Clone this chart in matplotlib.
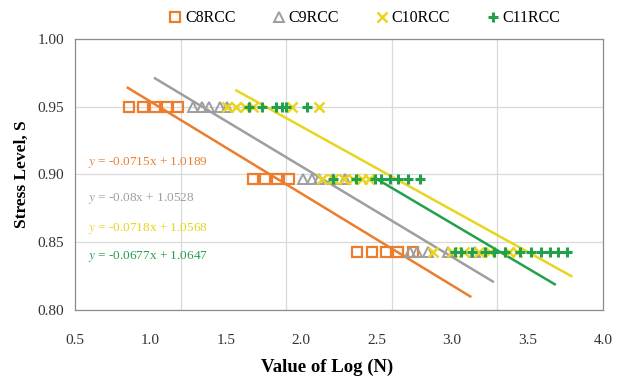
import numpy as np
import matplotlib
matplotlib.use('Agg')
import matplotlib.pyplot as plt
from matplotlib.ticker import FixedLocator

plt.rcParams['font.family'] = ['Liberation Serif', 'DejaVu Serif']
plt.rcParams['mathtext.fontset'] = 'stix'

# stress levels
levels = [0.95, 0.897, 0.843]

# value of log(N) for each specimen, one list per stress level
c8_logn = [[0.86, 0.95, 1.03, 1.11, 1.18],
           [1.68, 1.76, 1.84, 1.92],
           [2.37, 2.47, 2.56, 2.64, 2.74]]
c9_logn = [[1.28, 1.34, 1.39, 1.46, 1.51],
           [2.01, 2.07, 2.12, 2.21, 2.29],
           [2.72, 2.77, 2.84, 2.97, 3.15]]
c10_logn = [[1.51, 1.57, 1.63, 1.68, 1.94, 2.12],
            [2.14, 2.21, 2.28, 2.34, 2.40, 2.45],
            [2.87, 3.00, 3.08, 3.18, 3.25, 3.38, 3.43]]
c11_logn = [[1.65, 1.74, 1.83, 1.87, 1.90, 2.04],
            [2.21, 2.36, 2.49, 2.53, 2.59, 2.64, 2.71, 2.79],
            [3.02, 3.06, 3.13, 3.22, 3.28, 3.35, 3.45, 3.52, 3.59, 3.65, 3.70, 3.76]]

# trend lines as drawn (start / end in data units)
trend_x = [[0.85, 3.12], [1.03, 3.27], [1.57, 3.79], [2.48, 3.68]]
trend_y = [[0.964, 0.810], [0.971, 0.821], [0.962, 0.825], [0.898, 0.819]]

equations = ['-0.0715x + 1.0189', '-0.08x + 1.0528', '-0.0718x + 1.0568', '-0.0677x + 1.0647']
names = ['C8RCC', 'C9RCC', 'C10RCC', 'C11RCC']
colors = ['#EC7D2C', '#9E9E9E', '#E8D51C', '#22A04A']

fig = plt.figure(figsize=(6.17, 3.81), dpi=100)
ax = fig.add_axes([0.1216, 0.1864, 0.8557, 0.7112])

# trend lines
for i in range(4):
    ax.plot(trend_x[i], trend_y[i], color=colors[i], lw=1.8, zorder=2)

def flat(series):
    xs, ys = [], []
    for lv, vals in zip(levels, series):
        xs += vals
        ys += [lv] * len(vals)
    return xs, ys

x, y = flat(c8_logn)
h1, = ax.plot(x, y, 's', ms=7, mfc='none', mec=colors[0], mew=1.6, ls='none', zorder=3)
x, y = flat(c9_logn)
h2, = ax.plot(x, y, '^', ms=7.5, mfc='none', mec=colors[1], mew=1.4, ls='none', zorder=3)
x, y = flat(c10_logn)
h3, = ax.plot(x, y, 'x', ms=6.5, color=colors[2], mew=1.8, ls='none', zorder=3)
x, y = flat(c11_logn)
h4, = ax.plot(x, y, '+', ms=7, color=colors[3], mew=2.2, ls='none', zorder=4)

ax.set_xlim(0.5, 4.0)
ax.set_ylim(0.80, 1.00)
ax.set_xticks(np.arange(0.5, 4.01, 0.5))
ax.set_yticks([0.80, 0.85, 0.90, 0.95, 1.00])
ax.xaxis.set_minor_locator(FixedLocator([1.2, 1.9, 2.6, 3.3]))
ax.set_xticklabels(['%.1f' % v for v in np.arange(0.5, 4.01, 0.5)])
ax.set_yticklabels(['0.80', '0.85', '0.90', '0.95', '1.00'])
ax.tick_params(axis='both', which='both', length=0, labelsize=11, colors='#333333', pad=8)
ax.tick_params(axis='x', pad=17)
ax.grid(axis='y', which='major', color='#D9D9D9', lw=0.9)
ax.grid(axis='x', which='minor', color='#D9D9D9', lw=0.9)
ax.set_axisbelow(True)
for sp in ax.spines.values():
    sp.set_color('#8C8C8C')
    sp.set_linewidth(0.9)

ax.set_xlabel('Value of Log (N)', fontsize=13.5, fontweight='bold')
ax.xaxis.set_label_coords(0.477, -0.18)
ax.set_ylabel('Stress Level, S', fontsize=12.5, fontweight='bold', labelpad=5)

eq_y = [0.545, 0.41, 0.299, 0.199]
for i in range(4):
    ax.text(0.024, eq_y[i], r'$y$ = ' + equations[i], transform=ax.transAxes,
            color=colors[i], fontsize=9.5, va='center', ha='left')

fig.legend([h1, h2, h3, h4], names, loc='center', bbox_to_anchor=(0.59, 0.952),
           ncol=4, frameon=False, fontsize=11.5, handletextpad=0.1,
           columnspacing=2.2, handlelength=1.0)

fig.savefig('out.png', dpi=100)
